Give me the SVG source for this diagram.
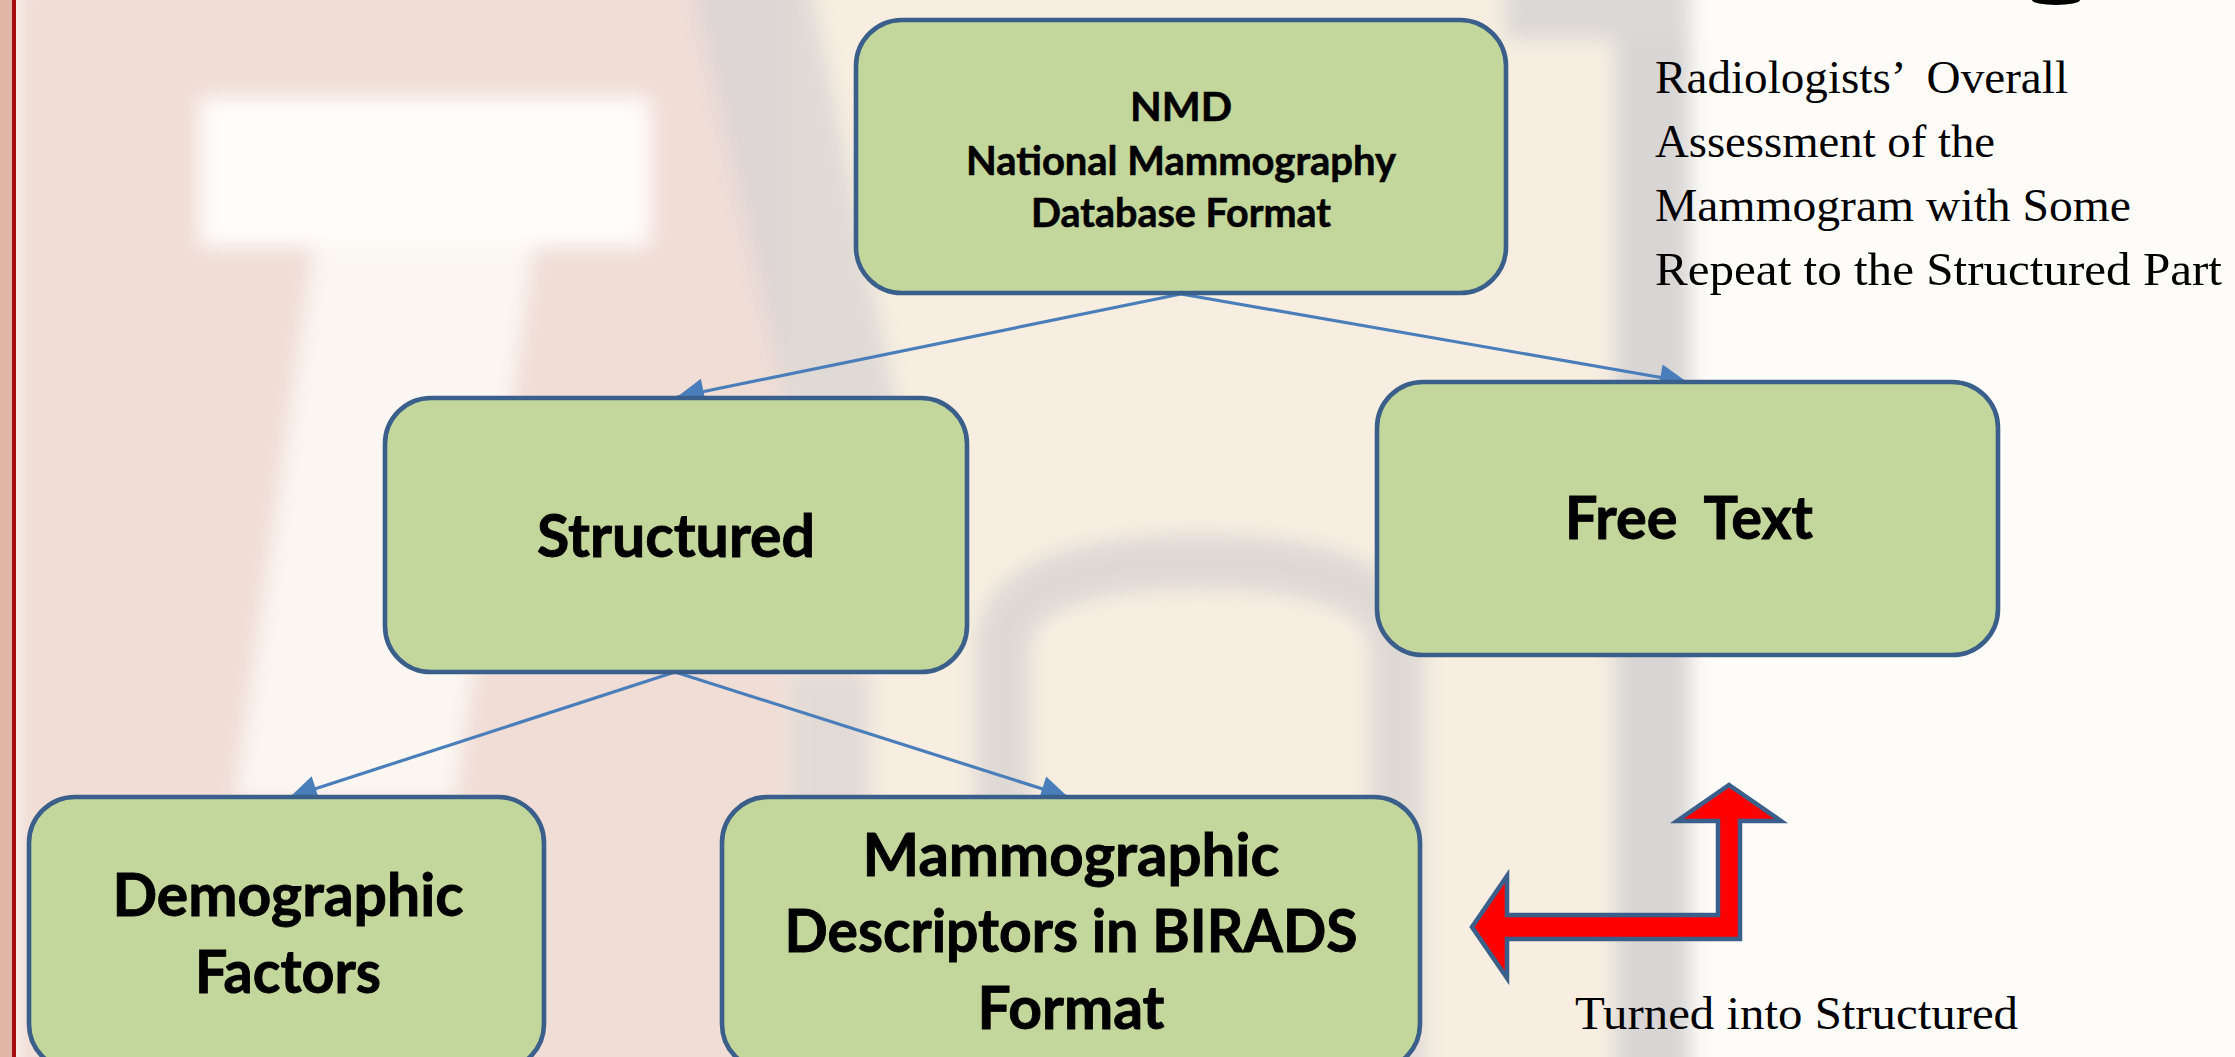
<svg xmlns="http://www.w3.org/2000/svg" width="2235" height="1057" viewBox="0 0 2235 1057">
<defs>
  <filter id="blur" x="-5%" y="-5%" width="110%" height="110%"><feGaussianBlur stdDeviation="10"/></filter>
  <marker id="arr" markerUnits="userSpaceOnUse" markerWidth="30" markerHeight="30" viewBox="0 0 30 30" refX="28" refY="15" orient="auto">
    <path d="M1,2 L28,15 L1,28 z" fill="#4A7EBB"/>
  </marker>
  <style>
    .box{fill:#C3D69B;stroke:#3A5F8B;stroke-width:4.6}
    .lbl{font-family:Lato,'Open Sans','Liberation Sans',sans-serif;font-weight:bold;fill:#000;stroke:#000;stroke-width:0.9;text-anchor:middle}
    .big{font-size:60px}
    .sm{font-size:41px;stroke-width:0.6}
    .note{font-family:'Liberation Serif','DejaVu Serif',serif;font-size:47px;fill:#000;white-space:pre}
    .conn{stroke:#4A7EBB;stroke-width:3.2;fill:none;marker-end:url(#arr)}
  </style>
</defs>

<g id="background">
  <rect width="2235" height="1057" fill="#FDFCF8"/>
  <g filter="url(#blur)">
    <rect x="700" y="-20" width="990" height="1100" fill="#F7EEE1"/>
    <rect x="16" y="-20" width="770" height="1100" fill="#F0DDD6"/>
    <rect x="200" y="98" width="450" height="148" fill="#FFFDFA"/>
    <polygon points="315,240 535,240 455,800 235,800" fill="#FFFDFA" opacity="0.75"/>
    <polygon points="690,-20 810,-20 900,420 790,420" fill="#D9D4D3" opacity="0.8"/>
    <path d="M1003,1080 L1003,650 Q1003,562 1200,562 Q1397,562 1397,650 L1397,1080" fill="none" stroke="#DAD5D2" stroke-width="55" opacity="0.85"/>
    <rect x="1615" y="-20" width="75" height="1100" fill="#D8D5D4"/>
    <rect x="1505" y="-20" width="185" height="60" fill="#DCD8D5"/>
    <rect x="790" y="670" width="80" height="410" fill="#E2DAD5"/>
  </g>
  <rect x="0" y="0" width="12" height="1057" fill="#E1B6A6"/>
  <rect x="12" y="0" width="4" height="1057" fill="#A50F0F"/>
  <ellipse cx="2056" cy="0" rx="24" ry="5" fill="#000"/>
</g>

<g id="connectors">
  <line class="conn" x1="1181" y1="294" x2="677" y2="397"/>
  <line class="conn" x1="1181" y1="294" x2="1687" y2="382"/>
  <line class="conn" x1="675" y1="672" x2="290" y2="797"/>
  <line class="conn" x1="675" y1="672" x2="1068" y2="797"/>
</g>

<g id="nmd">
  <rect class="box" x="856" y="20" width="650" height="273" rx="46"/>
  <text class="lbl sm" x="1181" y="121" textLength="102" lengthAdjust="spacingAndGlyphs">NMD</text>
  <text class="lbl sm" x="1181" y="175" textLength="430" lengthAdjust="spacingAndGlyphs">National Mammography</text>
  <text class="lbl sm" x="1181" y="227" textLength="300" lengthAdjust="spacingAndGlyphs">Database Format</text>
</g>

<g id="structured">
  <rect class="box" x="385" y="398" width="582" height="274" rx="46"/>
  <text class="lbl big" x="676" y="557" textLength="278" lengthAdjust="spacingAndGlyphs">Structured</text>
</g>

<g id="free-text">
  <rect class="box" x="1377" y="382" width="621" height="273" rx="46"/>
  <text class="lbl big" x="1689" y="539" textLength="248" lengthAdjust="spacingAndGlyphs" style="white-space:pre">Free  Text</text>
</g>

<g id="demographic">
  <rect class="box" x="29" y="797" width="515" height="273" rx="46"/>
  <text class="lbl big" x="288" y="916" textLength="351" lengthAdjust="spacingAndGlyphs">Demographic</text>
  <text class="lbl big" x="288" y="993" textLength="186" lengthAdjust="spacingAndGlyphs">Factors</text>
</g>

<g id="mammographic">
  <rect class="box" x="722" y="797" width="698" height="273" rx="46"/>
  <text class="lbl big" x="1071" y="876" textLength="417" lengthAdjust="spacingAndGlyphs">Mammographic</text>
  <text class="lbl big" x="1071" y="952" textLength="573" lengthAdjust="spacingAndGlyphs">Descriptors in BIRADS</text>
  <text class="lbl big" x="1071" y="1029" textLength="187" lengthAdjust="spacingAndGlyphs">Format</text>
</g>

<g id="bent-arrow">
  <polygon points="1472,927 1507,876 1507,915 1718,915 1718,821 1677,821 1729,785 1781,821 1740,821 1740,939 1507,939 1507,978" fill="#FF0000" stroke="#3A5F8B" stroke-width="4.5"/>
</g>

<g id="note-overall">
  <text class="note" x="1655" y="93" textLength="413" lengthAdjust="spacingAndGlyphs" xml:space="preserve">Radiologists’  Overall</text>
  <text class="note" x="1655" y="157" textLength="340" lengthAdjust="spacingAndGlyphs">Assessment of the</text>
  <text class="note" x="1655" y="221" textLength="476" lengthAdjust="spacingAndGlyphs">Mammogram with Some</text>
  <text class="note" x="1655" y="285" textLength="567" lengthAdjust="spacingAndGlyphs">Repeat to the Structured Part</text>
</g>

<g id="note-turned">
  <text class="note" x="1575" y="1029" textLength="443" lengthAdjust="spacingAndGlyphs">Turned into Structured</text>
</g>
</svg>
